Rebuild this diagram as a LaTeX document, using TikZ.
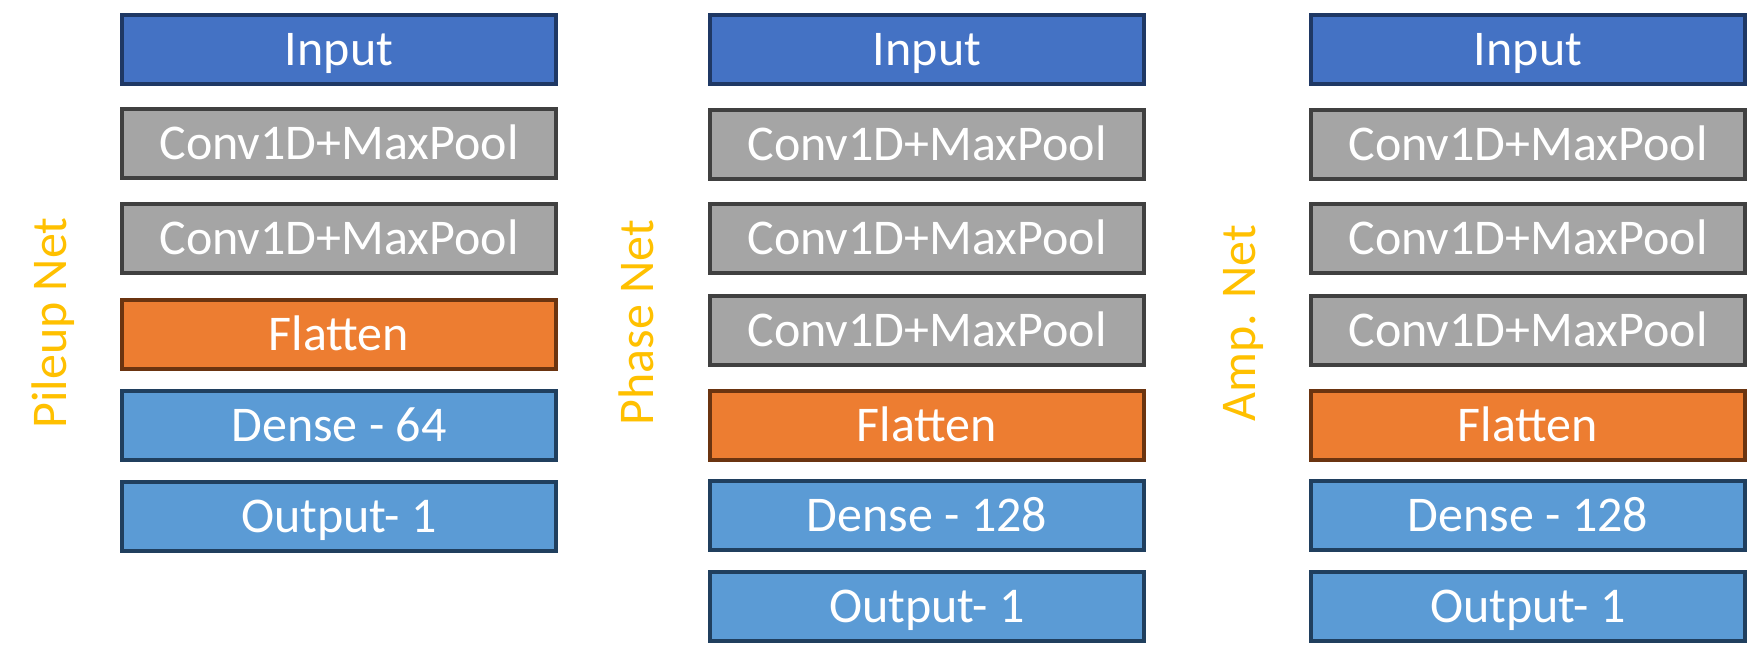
\documentclass[tikz,border=0pt]{standalone}
\usepackage{fontspec}
\setmainfont{Carlito}
\definecolor{inFill}{HTML}{4472C4}
\definecolor{inDraw}{HTML}{1F3864}
\definecolor{cvFill}{HTML}{A5A5A5}
\definecolor{cvDraw}{HTML}{404040}
\definecolor{flFill}{HTML}{ED7D31}
\definecolor{flDraw}{HTML}{6B3410}
\definecolor{dnFill}{HTML}{5B9BD5}
\definecolor{dnDraw}{HTML}{203F5E}
\definecolor{lblCol}{HTML}{FFC000}
\tikzset{
  layerbox/.style={rectangle, line width=4pt, minimum width=434pt, minimum height=69pt,
    inner sep=0pt, text=white, font=\fontsize{50}{60}\selectfont,
    text height=32pt, text depth=0pt},
  inputbox/.style={layerbox, fill=inFill, draw=inDraw},
  convbox/.style={layerbox, fill=cvFill, draw=cvDraw},
  flatbox/.style={layerbox, fill=flFill, draw=flDraw},
  densebox/.style={layerbox, fill=dnFill, draw=dnDraw},
  netlabel/.style={rotate=90, inner sep=0pt, text=lblCol, font=\fontsize{50}{60}\selectfont,
    text height=32pt, text depth=0pt}
}
\begin{document}
\begin{tikzpicture}[x=1pt,y=-1pt]
\useasboundingbox (0,0) rectangle (1750,671);
% Pileup Net
\node[inputbox] (p1) at (339,50) {Input};
\node[convbox]  (p2) at (339,144) {Conv1D+MaxPool};
\node[convbox]  (p3) at (339,238.5) {Conv1D+MaxPool};
\node[flatbox]  (p4) at (339,334) {Flatten};
\node[densebox] (p5) at (339,425) {Dense - 64};
\node[densebox] (p6) at (339,516) {Output- 1};
\node[netlabel] (pl) at (50.5,323) {Pileup Net};
% Phase Net
\node[inputbox] (h1) at (927,50) {Input};
\node[convbox]  (h2) at (927,144.5) {Conv1D+MaxPool};
\node[convbox]  (h3) at (927,238.5) {Conv1D+MaxPool};
\node[convbox]  (h4) at (927,330.5) {Conv1D+MaxPool};
\node[flatbox]  (h5) at (927,425) {Flatten};
\node[densebox] (h6) at (927,515) {Dense - 128};
\node[densebox] (h7) at (927,606) {Output- 1};
\node[netlabel] (hl) at (637,322.5) {Phase Net};
% Amp. Net
\node[inputbox] (a1) at (1528,50) {Input};
\node[convbox]  (a2) at (1528,144.5) {Conv1D+MaxPool};
\node[convbox]  (a3) at (1528,238.5) {Conv1D+MaxPool};
\node[convbox]  (a4) at (1528,330.5) {Conv1D+MaxPool};
\node[flatbox]  (a5) at (1528,425) {Flatten};
\node[densebox] (a6) at (1528,515) {Dense - 128};
\node[densebox] (a7) at (1528,606) {Output- 1};
\node[netlabel] (al) at (1239,323.5) {Amp. Net};
\end{tikzpicture}
\end{document}
